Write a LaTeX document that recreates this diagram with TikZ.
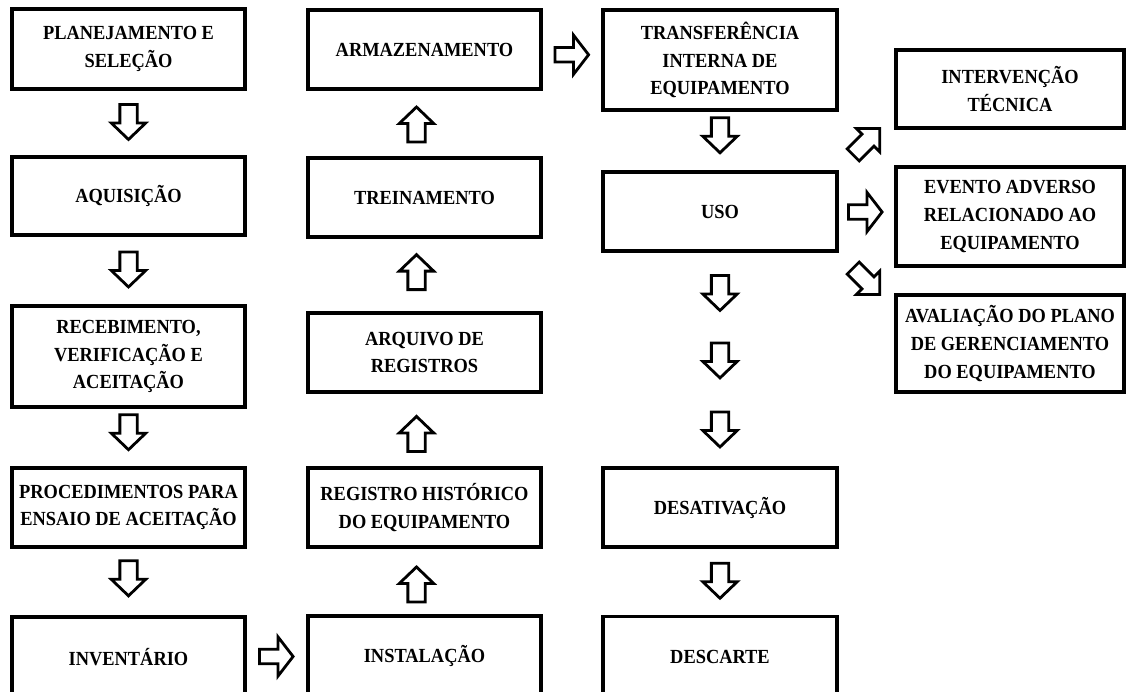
\documentclass[tikz,border=0pt]{standalone}
\usepackage{fontspec}
\setmainfont{Liberation Serif}[FakeStretch=0.92]
\usetikzlibrary{calc}
\begin{document}
\begin{tikzpicture}[x=1pt,y=-1pt,
  box/.style={draw, line width=3.2pt, inner sep=1pt, align=center,
    font=\fontsize{20}{27.7}\selectfont\bfseries},
  blk/.style={draw, line width=2.8pt, line join=miter, fill=white},
  vdown/.pic={\path[blk] (-8.65,-18.5) -- (8.65,-18.5) -- (8.65,0) -- (17.2,0) -- (0,16.5) -- (-17.2,0) -- (-8.65,0) -- cycle;},
  vup/.pic={\path[blk] (-8.65,18.5) -- (8.65,18.5) -- (8.65,0) -- (17.2,0) -- (0,-16.5) -- (-17.2,0) -- (-8.65,0) -- cycle;},
  hright/.pic={\path[blk] (-17,-7.2) -- (1.5,-7.2) -- (1.5,-19.6) -- (16.6,0) -- (1.5,19.6) -- (1.5,7.2) -- (-17,7.2) -- cycle;},
  diag/.pic={\path[blk] (-19,-8.5) -- (2,-8.5) -- (2,-16.5) -- (18.5,0) -- (2,16.5) -- (2,8.5) -- (-19,8.5) -- cycle;}
]
\useasboundingbox (0,0) rectangle (1128,692);
\fill[white] (0,0) rectangle (1128,692);
\clip (0,0) rectangle (1128,692);

% column 1
\node[box, minimum width=233pt, minimum height=80pt] (p1) at (128.5,49) {PLANEJAMENTO E\\SELEÇÃO};
\node[box, minimum width=233pt, minimum height=78pt] (p2) at (128.5,196) {AQUISIÇÃO};
\node[box, minimum width=233pt, minimum height=101pt] (p3) at (128.5,356.5) {RECEBIMENTO,\\VERIFICAÇÃO E\\ACEITAÇÃO};
\node[box, minimum width=233pt, minimum height=79pt] (p4) at (128.5,507.5) {PROCEDIMENTOS PARA\\ENSAIO DE ACEITAÇÃO};
\node[box, minimum width=233pt, minimum height=80pt] (p5) at (128.5,657) {INVENTÁRIO};

% column 2
\node[box, minimum width=233pt, minimum height=79pt] (a1) at (424.5,49.5) {ARMAZENAMENTO};
\node[box, minimum width=233pt, minimum height=79pt] (a2) at (424.5,197.5) {TREINAMENTO};
\node[box, minimum width=233pt, minimum height=79pt] (a3) at (424.5,352.5) {ARQUIVO DE\\REGISTROS};
\node[box, minimum width=233pt, minimum height=79pt] (a4) at (424.5,507.5) {REGISTRO HISTÓRICO\\DO EQUIPAMENTO};
\node[box, minimum width=233pt, minimum height=80pt] (a5) at (424.5,656) {INSTALAÇÃO};

% column 3
\node[box, minimum width=234pt, minimum height=100pt] (t1) at (720,60) {TRANSFERÊNCIA\\INTERNA DE\\EQUIPAMENTO};
\node[box, minimum width=234pt, minimum height=79pt] (t2) at (720,211.5) {USO};
\node[box, minimum width=234pt, minimum height=79pt] (t3) at (720,507.5) {DESATIVAÇÃO};
\node[box, minimum width=234pt, minimum height=80pt] (t4) at (720,656.5) {DESCARTE};

% column 4
\node[box, minimum width=228pt, minimum height=78pt] (i1) at (1010,89) {INTERVENÇÃO\\TÉCNICA};
\node[box, minimum width=228pt, minimum height=99pt] (i2) at (1010,216.5) {EVENTO ADVERSO\\RELACIONADO AO\\EQUIPAMENTO};
\node[box, minimum width=228pt, minimum height=97pt] (i3) at (1010,343.5) {AVALIAÇÃO DO PLANO\\DE GERENCIAMENTO\\DO EQUIPAMENTO};

% arrows column 1
\pic at ($(p1.south)!0.5!(p2.north)$) {vdown};
\pic at ($(p2.south)!0.5!(p3.north)$) {vdown};
\pic at ($(p3.south)!0.426!(p4.north)$) {vdown};
\pic at ($(p4.south)!0.46!(p5.north)$) {vdown};
\pic at ($(p5.east)!0.5!(a5.west)$) {hright};

% arrows column 2
\pic at ($(a5.north)!0.47!(a4.south)+(-8,0)$) {vup};
\pic at ($(a4.north)!0.46!(a3.south)+(-8,0)$) {vup};
\pic at ($(a3.north)!0.553!(a2.south)+(-8,0)$) {vup};
\pic at ($(a2.north)!0.5!(a1.south)+(-8,0)$) {vup};
\pic at ($(a1.east)!0.5!(t1.west)$) {hright};

% arrows column 3
\pic at ($(t1.south)!0.42!(t2.north)$) {vdown};
\pic at ($(t2.south)!0.1935!(t3.north)$) {vdown};
\pic at ($(t2.south)!0.509!(t3.north)$) {vdown};
\pic at ($(t2.south)!0.832!(t3.north)$) {vdown};
\pic at ($(t3.south)!0.5!(t4.north)$) {vdown};

% arrows to column 4
\pic[rotate=45] at ($(t2.east)+(28,-70)$) {diag};
\pic at ($(t2.east)!0.5!(i2.west)+(-1,-2)$) {hright};
\pic[rotate=-45] at ($(t2.east)+(28,70)$) {diag};
\end{tikzpicture}
\end{document}
